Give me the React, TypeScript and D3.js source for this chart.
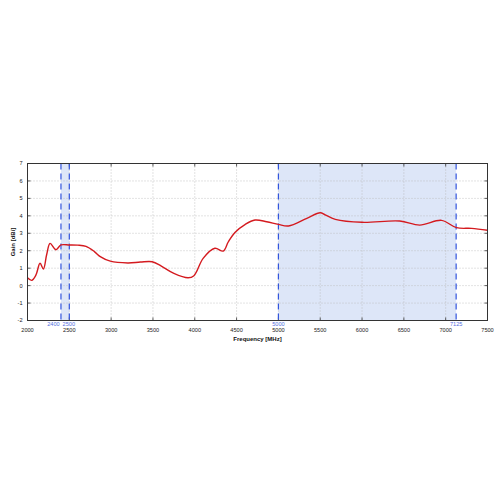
import React from 'react';
import * as d3 from 'd3';

const freqs = [2000, 2050, 2100, 2150, 2190, 2230, 2270, 2340, 2400, 2500, 2600, 2700, 2800, 2870, 2990, 3200, 3350, 3490, 3600, 3750, 3920, 3990, 4100, 4240, 4340, 4400, 4480, 4600, 4720, 4860, 5000, 5120, 5340, 5500, 5560, 5680, 6000, 6450, 6690, 6950, 7130, 7310, 7500];
const gains = [0.45, 0.3, 0.6, 1.28, 0.95, 1.8, 2.42, 2.06, 2.33, 2.33, 2.32, 2.25, 1.95, 1.66, 1.4, 1.3, 1.35, 1.37, 1.12, 0.7, 0.45, 0.57, 1.56, 2.14, 1.98, 2.5, 3.05, 3.5, 3.76, 3.66, 3.51, 3.42, 3.86, 4.18, 4.05, 3.8, 3.63, 3.7, 3.47, 3.74, 3.32, 3.28, 3.17];
const bands = [[2400, 2500], [5000, 7125]];
const bandEdges = [2400, 2500, 5000, 7125];
const xTicks = d3.range(2000, 7501, 500);
const yTicks = d3.range(-2, 8, 1);

// small nudges so the 2400/2500 labels don't collide
const edgeLabelShift: Record<number, number> = { 2400: -7.5, 2500: -0.5, 5000: 0, 7125: 0 };

export default function App() {
  const width = 500;
  const height = 500;
  const margin = { top: 163.5, right: 12.5, bottom: 179.5, left: 27.5 };
  const innerWidth = width - margin.left - margin.right;
  const innerHeight = height - margin.top - margin.bottom;

  const xScale = d3.scaleLinear().domain([2000, 7500]).range([0, innerWidth]);
  const yScale = d3.scaleLinear().domain([-2, 7]).range([innerHeight, 0]);

  const data = freqs.map((f, i) => [f, gains[i]] as [number, number]);
  const line = d3.line<[number, number]>()
    .x((d) => xScale(d[0]))
    .y((d) => yScale(d[1]))
    .curve(d3.curveCatmullRom.alpha(0.5));

  const font = 'Liberation Sans, Arial, sans-serif';
  const fs = 5.6;

  return (
    <svg width={width} height={height} style={{ position: 'absolute', left: 0, top: 0 }}>
      <rect width={width} height={height} fill="#fff" />
      <g transform={`translate(${margin.left}, ${margin.top})`}>
        {bands.map(([a, b]) => (
          <rect key={a} x={xScale(a)} y={0} width={xScale(b) - xScale(a)} height={innerHeight} fill="#dde6f8" />
        ))}
        {xTicks.map((t) => (
          <g key={`x${t}`} transform={`translate(${xScale(t)},0)`}>
            <line y2={innerHeight} stroke="#b8b8b8" strokeWidth={0.8} strokeDasharray="1,2" />
            <line y1={innerHeight} y2={innerHeight - 3} stroke="#333" strokeWidth={0.8} />
            <line y1={0} y2={3} stroke="#333" strokeWidth={0.8} />
            <text y={innerHeight + 11.5} textAnchor="middle" fontSize={fs} fontFamily={font} fill="#222">{t}</text>
          </g>
        ))}
        {yTicks.map((t) => (
          <g key={`y${t}`} transform={`translate(0,${yScale(t)})`}>
            <line x2={innerWidth} stroke="#b8b8b8" strokeWidth={0.8} strokeDasharray="1,2" />
            <line x1={0} x2={3} stroke="#333" strokeWidth={0.8} />
            <line x1={innerWidth} x2={innerWidth - 3} stroke="#333" strokeWidth={0.8} />
            <text x={-5} dy="0.35em" textAnchor="end" fontSize={fs} fontFamily={font} fill="#222">{t}</text>
          </g>
        ))}
        {bandEdges.map((f) => (
          <g key={`b${f}`} transform={`translate(${xScale(f)},0)`}>
            <line y2={innerHeight} stroke="#3355dd" strokeWidth={1.2} strokeDasharray="6,4" />
            <text x={edgeLabelShift[f]} y={innerHeight + 5.5} textAnchor="middle" fontSize={fs} fontFamily={font} fill="#5570e0">{f}</text>
          </g>
        ))}
        <path d={line(data) ?? ''} fill="none" stroke="#d41a1f" strokeWidth={1.4} />
        <rect width={innerWidth} height={innerHeight} fill="none" stroke="#333" strokeWidth={1} />
        <text x={innerWidth / 2} y={innerHeight + 20} textAnchor="middle" fontSize={6} fontWeight="bold" fontFamily={font} fill="#111">Frequency [MHz]</text>
        <text transform={`translate(-13,${innerHeight / 2}) rotate(-90)`} textAnchor="middle" fontSize={6} fontWeight="bold" fontFamily={font} fill="#111">Gain [dBi]</text>
      </g>
    </svg>
  );
}
